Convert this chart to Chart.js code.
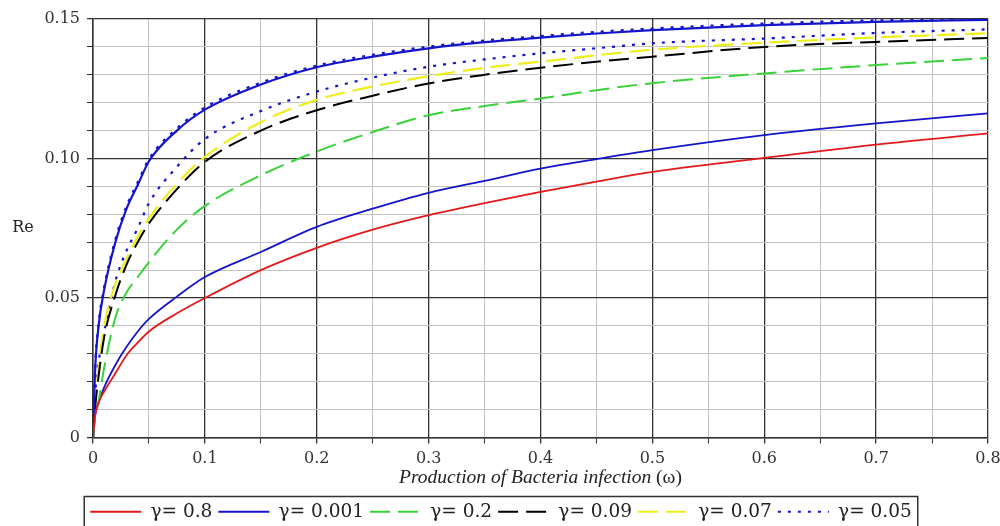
<!DOCTYPE html>
<html>
<head>
<meta charset="utf-8">
<script src="https://cdn.jsdelivr.net/npm/chart.js@4.4.1/dist/chart.umd.min.js"></script>
<style>
  html, body { margin: 0; padding: 0; background: #fff; }
  #wrap { width: 1000px; height: 526px; }
</style>
</head>
<body>
<div id="wrap"><canvas id="reChart" width="1000" height="526"></canvas></div>
<script>
// omega samples (x axis) shared by every curve
const omega = [0, 0.002, 0.005, 0.01, 0.02, 0.03, 0.04, 0.05, 0.075, 0.1, 0.15, 0.2, 0.25, 0.3, 0.35, 0.4, 0.45, 0.5, 0.6, 0.7, 0.8];

// Re values
const reGamma08 = [0, 0.0079, 0.0125, 0.0165, 0.0230, 0.0295, 0.0340, 0.0380, 0.0445, 0.0500, 0.0600, 0.0680, 0.0745, 0.0797, 0.0840, 0.0880, 0.0917, 0.0952, 0.1002, 0.1050, 0.1090];
const reGamma0001 = [0, 0.025, 0.040, 0.053, 0.070, 0.082, 0.0905, 0.0990, 0.1100, 0.1175, 0.1265, 0.1327, 0.1365, 0.1395, 0.1417, 0.1433, 0.1448, 0.1460, 0.1478, 0.1490, 0.1497];
const reGamma02 = [0, 0.0070, 0.0130, 0.0250, 0.0430, 0.0520, 0.0575, 0.0629, 0.0745, 0.0830, 0.0940, 0.1025, 0.1095, 0.1155, 0.1188, 0.1215, 0.1245, 0.1270, 0.1305, 0.1335, 0.1360];
const reGamma009 = [0, 0.011, 0.022, 0.036, 0.051, 0.062, 0.070, 0.0767, 0.0890, 0.0988, 0.1100, 0.1173, 0.1225, 0.1269, 0.1300, 0.1325, 0.1347, 0.1365, 0.1400, 0.1418, 0.1432];
const reGamma007 = [0, 0.013, 0.025, 0.040, 0.055, 0.064, 0.072, 0.0785, 0.0910, 0.1006, 0.1130, 0.1210, 0.1258, 0.1295, 0.1325, 0.1347, 0.1370, 0.1390, 0.1415, 0.1434, 0.1449];
const reGamma005 = [0, 0.016, 0.027, 0.038, 0.056, 0.067, 0.075, 0.084, 0.097, 0.107, 0.117, 0.124, 0.129, 0.1329, 0.1355, 0.1377, 0.1395, 0.1413, 0.1430, 0.1450, 0.1463];
// two extra curves drawn in the plot but not listed in the legend
const reLowerBlue = [0, 0.0085, 0.0125, 0.0180, 0.0260, 0.0325, 0.0380, 0.0425, 0.0505, 0.0575, 0.0665, 0.0755, 0.0820, 0.0877, 0.0920, 0.0964, 0.0998, 0.1030, 0.1084, 0.1126, 0.1162];
const reTopDotted = [0, 0.026, 0.041, 0.054, 0.071, 0.083, 0.0915, 0.0998, 0.1108, 0.1183, 0.1272, 0.1333, 0.1372, 0.1401, 0.1423, 0.1439, 0.1454, 0.1466, 0.1484, 0.1495, 0.1500];

const xTicks = { min: 0, max: 0.8, step: 0.05 };
const yTicks = { min: 0, max: 0.15, step: 0.01 };

const toPoints = (vals) => omega.map((x, i) => ({ x: x, y: vals[i] }));
const isMultiple = (v, m) => Math.abs(v / m - Math.round(v / m)) < 1e-6;

const BLUE = "#1414cc";
const DASH = [20, 8];
const DOT = [3, 7];

const datasets = [
  { label: "γ= 0.8", data: toPoints(reGamma08), borderColor: "#e41a1a", borderWidth: 1.8 },
  { label: "γ= 0.001", data: toPoints(reGamma0001), borderColor: BLUE, borderWidth: 2.2 },
  { label: "γ= 0.2", data: toPoints(reGamma02), borderColor: "#3ad23a", borderWidth: 2, borderDash: DASH },
  { label: "γ= 0.09", data: toPoints(reGamma009), borderColor: "#000000", borderWidth: 2, borderDash: DASH },
  { label: "γ= 0.07", data: toPoints(reGamma007), borderColor: "#eeee1a", borderWidth: 2.2, borderDash: DASH },
  { label: "γ= 0.05", data: toPoints(reGamma005), borderColor: BLUE, borderWidth: 2.2, borderDash: DOT },
  { label: "extra1", extra: true, data: toPoints(reLowerBlue), borderColor: BLUE, borderWidth: 1.8 },
  { label: "extra2", extra: true, data: toPoints(reTopDotted), borderColor: BLUE, borderWidth: 2.2, borderDash: DOT },
];
datasets.forEach((d) => {
  d.pointRadius = 0;
  d.fill = false;
  d.cubicInterpolationMode = "monotone";
});

const gridColor = (c) => {
  if (!c.tick) return "#c4c4c4";
  const major = c.scale.axis === "x" ? 0.1 : 0.05;
  return isMultiple(c.tick.value, major) ? "#333333" : "#c4c4c4";
};
const gridWidth = (c) => {
  if (!c.tick) return 1;
  const major = c.scale.axis === "x" ? 0.1 : 0.05;
  return isMultiple(c.tick.value, major) ? 1.3 : 1;
};

// text that Chart.js can't lay out itself: horizontal "Re", mixed-font x title, legend frame
const extras = {
  id: "extras",
  afterDraw(chart) {
    const ctx = chart.ctx;
    const area = chart.chartArea;
    ctx.save();
    ctx.fillStyle = "#222";
    ctx.textBaseline = "middle";
    ctx.textAlign = "center";
    ctx.font = '16px "DejaVu Serif"';
    ctx.fillText("Re", 23, 228);

    const part1 = "Production of Bacteria infection ";
    const part2 = "(ω)";
    const f1 = 'italic 19.5px "Liberation Serif"';
    const f2 = '19.5px "Liberation Serif"';
    ctx.font = f1;
    const w1 = ctx.measureText(part1).width;
    ctx.font = f2;
    const w2 = ctx.measureText(part2).width;
    const x0 = (area.left + area.right) / 2 - (w1 + w2) / 2;
    ctx.textAlign = "left";
    ctx.font = f1;
    ctx.fillText(part1, x0, 478);
    ctx.font = f2;
    ctx.fillText(part2, x0 + w1, 478);

    const boxes = chart.legend.legendHitBoxes;
    if (boxes && boxes.length) {
      const left = Math.min(...boxes.map((b) => b.left)) - 6;
      const right = Math.max(...boxes.map((b) => b.left + b.width)) + 6;
      ctx.strokeStyle = "#333";
      ctx.lineWidth = 1.5;
      ctx.strokeRect(left, chart.legend.top, right - left, 60);
    }
    ctx.restore();
  },
};

const ctx = document.getElementById("reChart").getContext("2d");
new Chart(ctx, {
  type: "line",
  data: { datasets: datasets },
  plugins: [extras],
  options: {
    responsive: false,
    animation: false,
    layout: { padding: { left: 7, right: 5, top: 19, bottom: -5 } },
    scales: {
      x: {
        type: "linear",
        min: xTicks.min,
        max: xTicks.max,
        afterFit: (s) => { s.height = 59; s.paddingLeft = 0; s.paddingRight = 12; },
        border: { display: true, color: "#333", width: 1.5 },
        grid: { color: gridColor, lineWidth: gridWidth, tickColor: "#333", tickLength: 6 },
        ticks: {
          stepSize: xTicks.step,
          autoSkip: false,
          maxRotation: 0,
          padding: 6,
          color: "#333",
          font: { family: "DejaVu Serif", size: 16 },
          callback: (v) => (v === 0 ? "0" : isMultiple(v, 0.1) ? v.toFixed(1) : ""),
        },
      },
      y: {
        min: yTicks.min,
        max: yTicks.max,
        afterFit: (s) => { s.width = 86; },
        border: { display: true, color: "#333", width: 1.5 },
        grid: { color: gridColor, lineWidth: gridWidth, tickColor: "#333", tickLength: 6 },
        ticks: {
          stepSize: yTicks.step,
          autoSkip: false,
          padding: 7,
          color: "#333",
          font: { family: "DejaVu Serif", size: 16 },
          callback: (v) => (v === 0 ? "0" : isMultiple(v, 0.05) ? v.toFixed(2) : ""),
        },
      },
    },
    plugins: {
      tooltip: { enabled: false },
      legend: {
        position: "bottom",
        labels: {
          usePointStyle: true,
          pointStyle: "line",
          pointStyleWidth: 51,
          padding: 6,
          color: "#222",
          font: { family: "DejaVu Serif", size: 18.5 },
          generateLabels: (chart) =>
            Chart.defaults.plugins.legend.labels.generateLabels(chart).map((item) => {
              const ds = chart.data.datasets[item.datasetIndex];
              item.lineDash = ds.borderDash || [];
              item.lineWidth = ds.borderWidth;
              item.strokeStyle = ds.borderColor;
              return item;
            }),
          filter: (item, data) => !data.datasets[item.datasetIndex].extra,
        },
      },
    },
  },
});
</script>
</body>
</html>
